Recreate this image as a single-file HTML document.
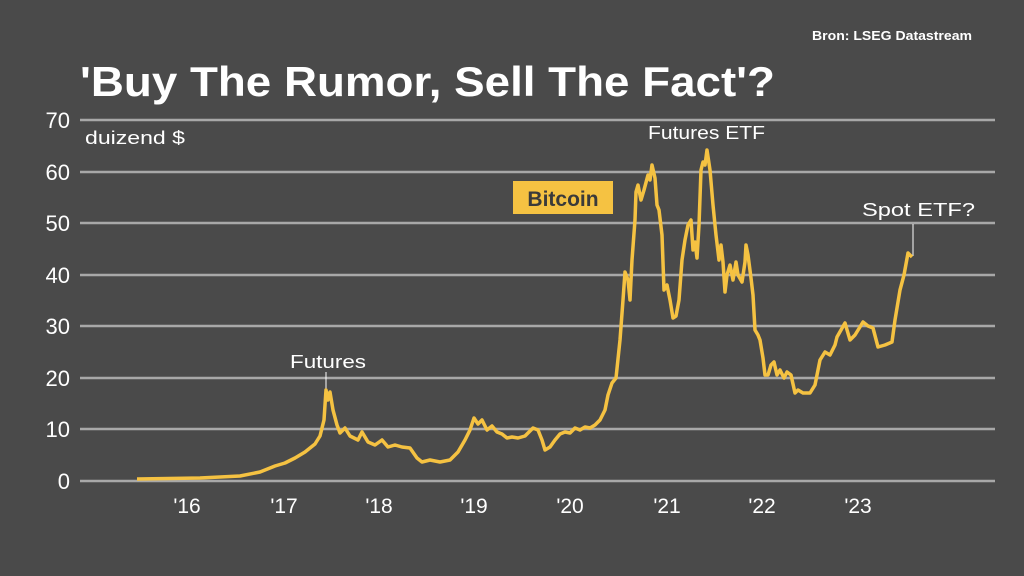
<!DOCTYPE html>
<html><head><meta charset="utf-8"><style>
html,body{margin:0;padding:0;background:#4a4a4a;}
svg{display:block}
text{font-family:"Liberation Sans",sans-serif;fill:#fff}
</style></head><body>
<svg width="1024" height="576" viewBox="0 0 1024 576" xmlns="http://www.w3.org/2000/svg">
<rect width="1024" height="576" fill="#4a4a4a"/>
<text x="812" y="40" font-size="13" font-weight="bold" textLength="160" lengthAdjust="spacingAndGlyphs">Bron: LSEG Datastream</text>
<text x="80" y="96" font-size="42" font-weight="bold" textLength="695" lengthAdjust="spacingAndGlyphs">'Buy The Rumor, Sell The Fact'?</text>
<g stroke="#a8a8a8" stroke-width="2.5">
<line x1="80" x2="995" y1="120" y2="120"/>
<line x1="80" x2="995" y1="172" y2="172"/>
<line x1="80" x2="995" y1="223" y2="223"/>
<line x1="80" x2="995" y1="275" y2="275"/>
<line x1="80" x2="995" y1="326" y2="326"/>
<line x1="80" x2="995" y1="378" y2="378"/>
<line x1="80" x2="995" y1="429" y2="429"/>
<line x1="80" x2="995" y1="481" y2="481"/>
</g>
<g font-size="22" text-anchor="end">
<text x="70" y="128">70</text><text x="70" y="180">60</text><text x="70" y="231">50</text>
<text x="70" y="283">40</text><text x="70" y="334">30</text><text x="70" y="386">20</text>
<text x="70" y="437">10</text><text x="70" y="489">0</text>
</g>
<text x="85" y="144" font-size="18" textLength="100" lengthAdjust="spacingAndGlyphs">duizend $</text>
<g font-size="21" text-anchor="middle">
<text x="187" y="513">'16</text><text x="284" y="513">'17</text><text x="379" y="513">'18</text>
<text x="474" y="513">'19</text><text x="570" y="513">'20</text><text x="667" y="513">'21</text>
<text x="762" y="513">'22</text><text x="858" y="513">'23</text>
</g>
<text x="290" y="368" font-size="18" textLength="76" lengthAdjust="spacingAndGlyphs">Futures</text>
<text x="648" y="139" font-size="18" textLength="117" lengthAdjust="spacingAndGlyphs">Futures ETF</text>
<text x="862" y="216" font-size="18" textLength="113" lengthAdjust="spacingAndGlyphs">Spot ETF?</text>
<line x1="326" y1="372" x2="326" y2="390" stroke="#fff" stroke-width="1"/>
<line x1="913" y1="224" x2="913" y2="256" stroke="#fff" stroke-width="1"/>
<rect x="513" y="181" width="100" height="33" fill="#f5c242"/>
<text x="563" y="206" font-size="21" font-weight="bold" text-anchor="middle" style="fill:#3a3a3a">Bitcoin</text>
<polyline fill="none" stroke="#f5c242" stroke-width="3.5" stroke-linejoin="round" points="137,479 200,478 240,476 260,472 275,466 285,463 295,458 305,452 315,444 320,436 324,420 326,390 328,400 330,392 333,410 337,425 340,433 345,428 350,436 358,440 362,432 368,442 375,445 382,440 388,447 395,445 402,447 410,448 417,458 422,462 430,460 440,462 450,460 458,452 465,440 470,430 474,418 478,424 482,420 487,430 492,426 497,432 502,434 507,438 512,437 518,438 525,436 533,428 538,430 542,440 545,450 550,447 555,440 560,434 565,432 570,433 575,428 580,430 585,427 590,428 595,425 600,420 605,410 608,395 612,383 616,378 620,340 623,300 625,272 628,280 630,300 632,260 635,220 636,192 638,185 641,200 644,190 648,175 650,180 652,165 655,178 657,205 659,210 662,235 664,290 667,285 670,300 673,318 676,316 679,300 682,260 685,240 688,225 691,220 693,250 695,242 697,258 699,225 701,170 703,162 705,165 707,150 710,170 713,205 716,235 719,260 721,245 723,262 725,292 727,275 730,265 733,280 736,262 738,275 742,282 745,262 746,245 748,255 751,278 753,295 755,330 758,335 760,340 763,358 765,375 768,375 771,365 774,362 777,375 780,370 784,378 787,372 791,375 795,393 798,390 803,393 810,393 815,385 820,360 825,352 830,355 835,345 837,337 841,330 845,323 850,340 855,335 863,322 868,326 873,328 878,347 885,345 892,342 895,320 900,290 904,275 908,253 912,257"/>
</svg>
</body></html>
